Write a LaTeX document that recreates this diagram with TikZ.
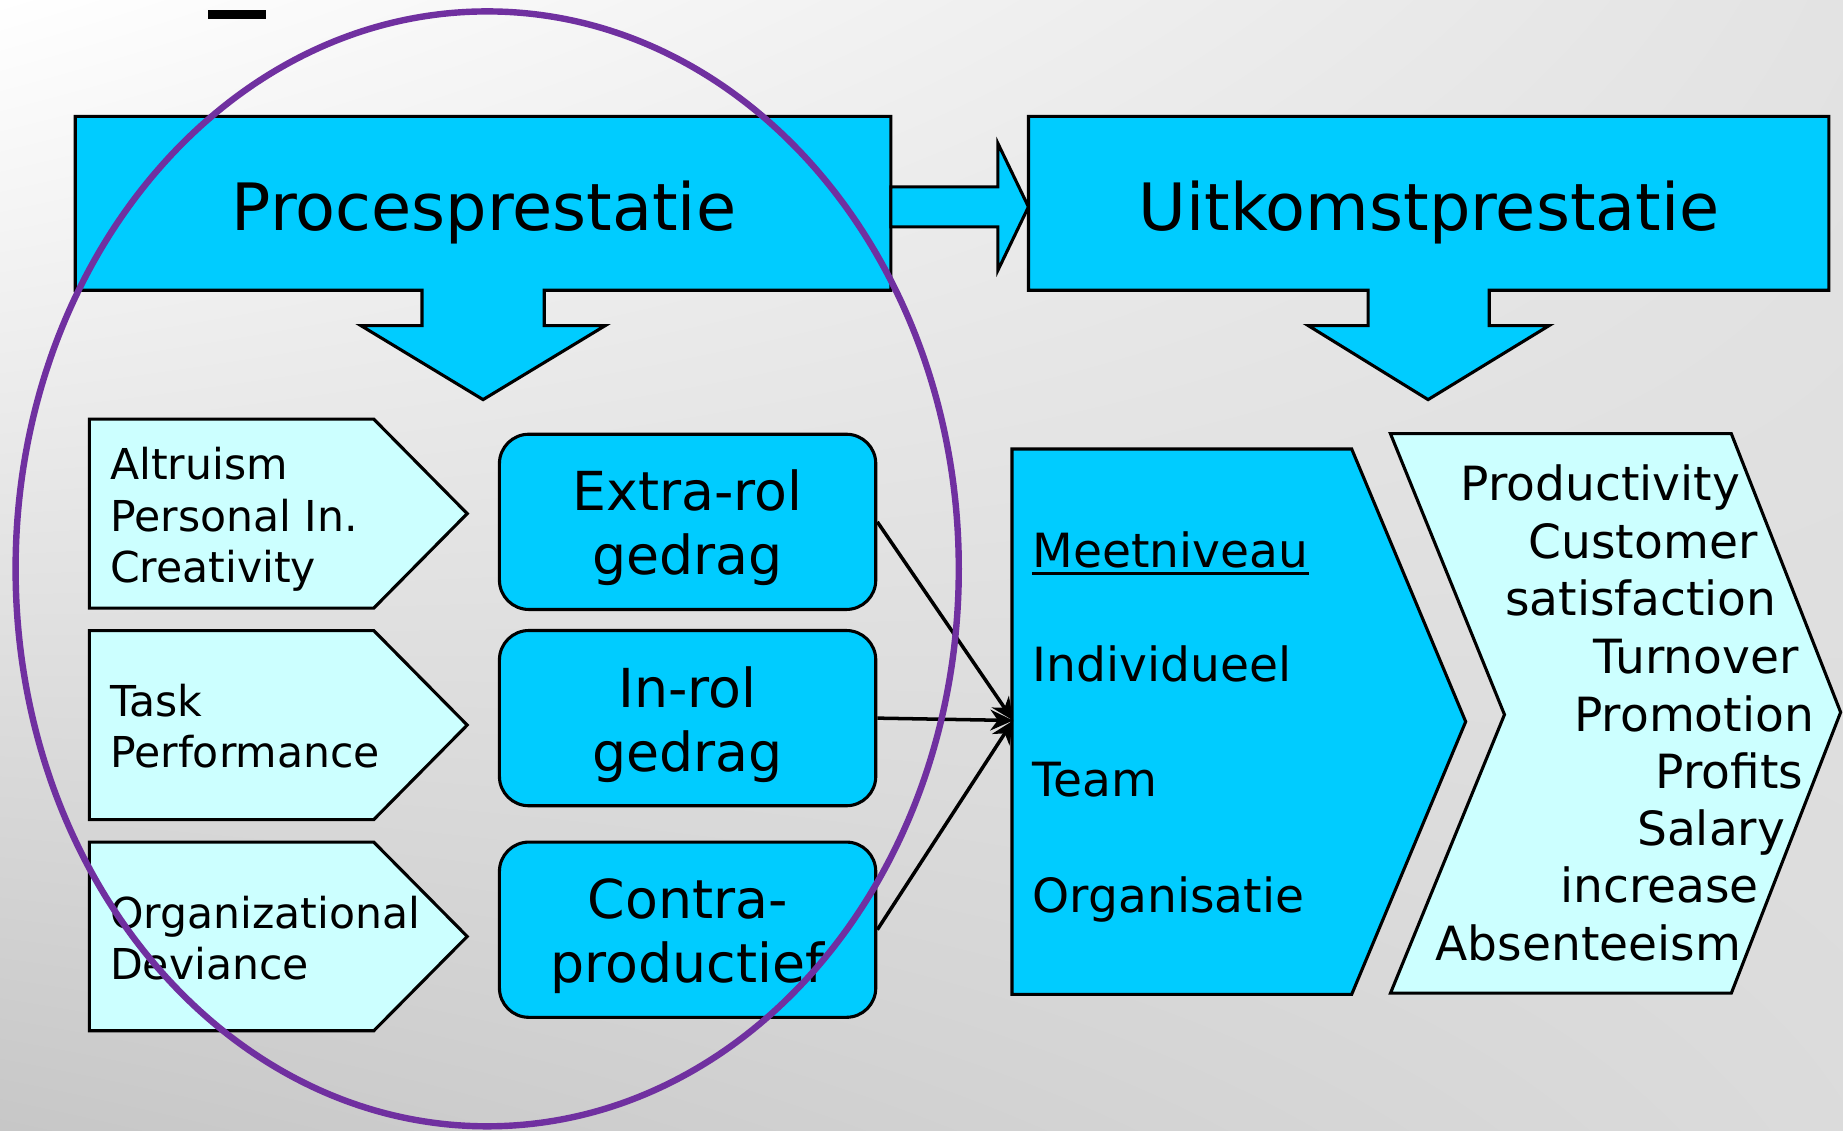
\documentclass[tikz,border=0pt]{standalone}
\usepackage{fontspec}
\setmainfont{DejaVu Sans}
\usetikzlibrary{arrows.meta}
\definecolor{boxcyan}{HTML}{00CCFF}
\definecolor{palecyan}{HTML}{CCFFFF}
\definecolor{ringpurple}{HTML}{7030A0}
\pgfdeclarefunctionalshading{slidebg}{\pgfpoint{-50bp}{-50bp}}{\pgfpoint{50bp}{50bp}}{}{
  25 exch sub 50 div exch 25 add 50 div
  2 copy mul 0.19 mul exch 0.11 mul sub exch 0.22 mul sub 1 add
  dup dup}
\tikzset{
  blockshape/.style={draw, line width=0.75pt, fill=boxcyan},
  chevlight/.style={draw, line width=0.75pt, fill=palecyan},
  rolbox/.style={draw, line width=0.75pt, rounded corners=0.25cm, fill=boxcyan, minimum width=3.2cm, minimum height=1.49cm, inner sep=0pt},
  roltext/.style={align=center, inner sep=0pt, font=\fontsize{13}{15.5}\selectfont},
  headtext/.style={anchor=base, inner sep=0pt, font=\fontsize{15.8}{19}\selectfont},
  chevtext/.style={anchor=west, align=left, inner sep=0pt, font=\fontsize{10.3}{12.4}\selectfont},
  leveltext/.style={anchor=base west, inner sep=0pt, font=\fontsize{11.4}{13.6}\selectfont},
  outtext/.style={anchor=base east, inner sep=0pt, font=\fontsize{11.4}{13.6}\selectfont},
  linkarrow/.style={-{Stealth[length=5.5pt,width=5pt]}, line width=0.85pt},
  focusring/.style={draw=ringpurple, line width=1.55pt}
}

\begin{document}
\begin{tikzpicture}[x=0.01cm, y=-0.01cm]
\useasboundingbox (0,0) rectangle (1568,962);
\shade[shading=slidebg] (0,0) rectangle (1568,962);
\fill (177,8.5) rectangle (226,16);

\draw[blockshape] (64,99) -- (758,99) -- (758,247) -- (463,247) -- (463,277) -- (515,277) -- (411,340) -- (307,277) -- (359,277) -- (359,247) -- (64,247) -- cycle;
\draw[blockshape] (758,159) -- (849,159) -- (849,122) -- (875,176) -- (849,230) -- (849,193) -- (758,193) -- cycle;
\draw[blockshape] (875,99) -- (1556,99) -- (1556,247) -- (1267,247) -- (1267,277) -- (1318,277) -- (1215,340) -- (1113,277) -- (1164,277) -- (1164,247) -- (875,247) -- cycle;
\node[headtext] (proc) at (411.8,195.7) {Procesprestatie};
\node[headtext] (uitk) at (1216,195.7) {Uitkomstprestatie};

\foreach \ya/\yb in {356.6/517.4, 536.5/697.3, 716.5/877}
  \draw[chevlight] (76,\ya) -- (318,\ya) -- (397.5,{(\ya+\yb)/2}) -- (318,\yb) -- (76,\yb) -- cycle;
\node[chevtext] (altru) at (93,442) {Altruism\\Personal In.\\Creativity};
\node[chevtext] (task) at (93,618) {Task\\Performance};
\node[chevtext] (devi) at (93,798) {Organizational\\Deviance};

\node[rolbox] (extra) at (585,444) {};
\node[rolbox] (inrol) at (585,611) {};
\node[rolbox] (contra) at (585,791) {};
\node[roltext] (extratxt) at ([yshift=-1.5pt]extra.center) {Extra-rol\\gedrag};
\node[roltext] (inroltxt) at ([yshift=-1.5pt]inrol.center) {In-rol\\gedrag};
\node[roltext] (contratxt) at ([yshift=-1.5pt]contra.center) {Contra-\\productief};

\draw[blockshape] (861,382) -- (1150,382) -- (1247,614) -- (1150,846) -- (861,846) -- cycle;
\coordinate (meetin) at (862,613);
\node[leveltext] (meet) at (878,482.5) {Meetniveau};
\draw[line width=0.65pt] ([yshift=-1.5pt]meet.base west) -- ([yshift=-1.5pt]meet.base east);
\node[leveltext] (indiv) at (878,580) {Individueel};
\node[leveltext] (team) at (878,678) {Team};
\node[leveltext] (orga) at (878,776) {Organisatie};

\draw[chevlight] (1183,369) -- (1473,369) -- (1566,606) -- (1473,845) -- (1183,845) -- (1280,608) -- cycle;
\foreach \nm/\xr/\yb/\txt in {prod/1481/426/Productivity, cust/1496/475/Customer, sati/1512/524/satisfaction, turn/1531/573/Turnover, prom/1544/622/Promotion, prof/1535/670.5/Profits, sala/1519.5/719.5/Salary, incr/1497/768/increase, abse/1482/817/Absenteeism}
  \node[outtext] (\nm) at (\xr,\yb) {\txt};

\draw[linkarrow] (extra.east) -- (meetin);
\draw[linkarrow] (inrol.east) -- (meetin);
\draw[linkarrow] (contra.east) -- (meetin);

\draw[focusring] (414.5,484) ellipse [x radius=4.01cm, y radius=4.74cm];
\end{tikzpicture}
\end{document}
